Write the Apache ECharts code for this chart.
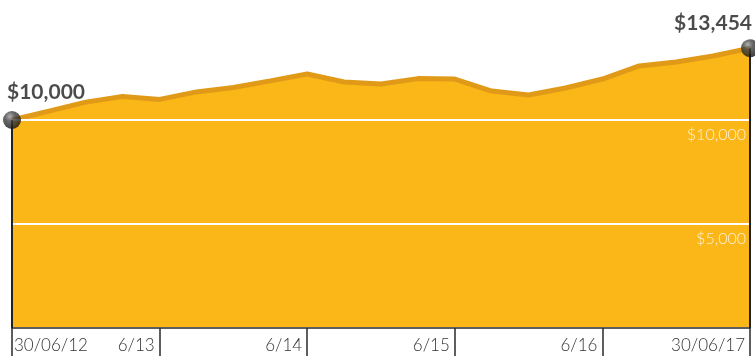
<!DOCTYPE html>
<html>
<head>
<meta charset="utf-8">
<script src="https://cdn.jsdelivr.net/npm/echarts@6/dist/echarts.min.js"></script>
<style>
  html, body { margin: 0; padding: 0; background: #fff; }
  #chart { width: 755px; height: 356px; }
</style>
</head>
<body>
<div id="chart"></div>
<script>
// quarterly dates, 30/06/12 .. 30/06/17
const categories = [
  '30/06/12', '30/09/12', '31/12/12', '31/03/13',
  '30/06/13', '30/09/13', '31/12/13', '31/03/14',
  '30/06/14', '30/09/14', '31/12/14', '31/03/15',
  '30/06/15', '30/09/15', '31/12/15', '31/03/16',
  '30/06/16', '30/09/16', '31/12/16', '31/03/17',
  '30/06/17'
];
// growth of $10,000
const values = [
  10000, 10430, 10860, 11130,
  10990, 11350, 11560, 11880,
  12210, 11830, 11730, 11990,
  11970, 11390, 11200, 11540,
  11970, 12600, 12790, 13080,
  13454
];
// x tick labels (every 4th category)
const xTickIndex = [0, 4, 8, 12, 16, 20];
const xTickLabels = ['30/06/12', '6/13', '6/14', '6/15', '6/16', '30/06/17'];
// y tick labels
const yTicks = [5000, 10000];
const yTickLabels = ['$5,000', '$10,000'];
// end point labels
const endLabels = ['$10,000', '$13,454'];

const last = values.length - 1;
const pins = values.map((v, i) => (i === 0 || i === last) ? v : null);

const chart = echarts.init(document.getElementById('chart'));

const ball = new echarts.graphic.RadialGradient(0.38, 0.3, 0.75, [
  { offset: 0, color: '#9c9c9c' },
  { offset: 0.35, color: '#444' },
  { offset: 1, color: '#0e0e0e' }
]);

function xLabel(val, idx) {
  const k = xTickIndex.indexOf(idx);
  return k >= 0 ? xTickLabels[k] : '';
}

const option = {
  animation: false,
  grid: { left: 12, right: 5, top: 16, bottom: 28, containLabel: false },
  xAxis: [{
    type: 'category',
    position: 'bottom',
    data: categories,
    boundaryGap: false,
    z: 4,
    axisLine: { show: true, lineStyle: { color: '#2a2a2a', width: 1.5 } },
    axisTick: {
      show: true,
      inside: false,
      length: 28,
      interval: (idx) => xTickIndex.indexOf(idx) >= 0,
      lineStyle: { color: '#2a2a2a', width: 1.5 }
    },
    axisLabel: {
      interval: (idx) => idx > 0 && xTickIndex.indexOf(idx) >= 0,
      formatter: xLabel,
      align: 'right',
      padding: [0, 5, 0, 0],
      margin: 9,
      color: '#333',
      fontFamily: 'Lato',
      fontWeight: 300,
      fontSize: 17
    },
    splitLine: { show: false }
  }, {
    type: 'category',
    position: 'bottom',
    data: categories,
    boundaryGap: false,
    axisLine: { show: false },
    axisTick: { show: false },
    axisLabel: {
      interval: (idx) => idx === 0,
      formatter: xLabel,
      align: 'left',
      padding: [0, 0, 0, 2],
      margin: 9,
      color: '#333',
      fontFamily: 'Lato',
      fontWeight: 300,
      fontSize: 17
    },
    splitLine: { show: false }
  }],
  yAxis: {
    type: 'value',
    position: 'right',
    min: 0,
    max: 15000,
    interval: 5000,
    z: 3,
    axisLine: { show: false },
    axisTick: { show: false },
    axisLabel: {
      inside: true,
      margin: 4,
      verticalAlign: 'top',
      padding: [7, 0, 0, 0],
      color: 'rgba(255,255,255,0.82)',
      fontFamily: 'Lato',
      fontWeight: 300,
      fontSize: 16,
      formatter: (v) => {
        const k = yTicks.indexOf(v);
        return k >= 0 ? yTickLabels[k] : '';
      }
    },
    splitLine: { show: true, lineStyle: { color: '#ffffff', width: 2 } }
  },
  series: [{
    name: 'value',
    type: 'line',
    data: values,
    z: 2,
    showSymbol: false,
    symbol: 'none',
    lineStyle: { color: '#E09A17', width: 5 },
    areaStyle: { color: '#FBB617', opacity: 1 }
  }, {
    name: 'pin',
    type: 'bar',
    data: pins,
    z: 4,
    barWidth: 2,
    itemStyle: { color: '#222' }
  }, {
    name: 'ends',
    type: 'scatter',
    z: 5,
    symbol: 'circle',
    symbolSize: 18,
    itemStyle: { color: ball },
    label: {
      show: true,
      position: 'top',
      color: '#1e1e1e',
      fontFamily: 'Lato',
      fontWeight: 'bold',
      fontSize: 21
    },
    data: [{
      value: [0, values[0]],
      label: { formatter: endLabels[0], align: 'left', offset: [-5, -3] }
    }, {
      value: [last, values[last]],
      label: { formatter: endLabels[1], align: 'right', offset: [2, 0] }
    }]
  }]
};

chart.setOption(option);
window.addEventListener('resize', () => {
  chart.resize();
}, true);
</script>
</body>
</html>
